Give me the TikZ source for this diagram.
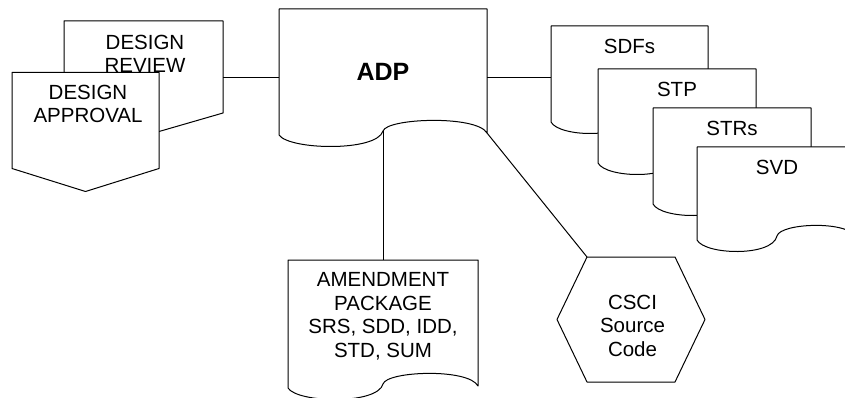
\documentclass[tikz,border=0pt]{standalone}
\usepackage{fontspec}
\setmainfont{Liberation Sans}
\usepackage{tikz}
\usetikzlibrary{positioning,calc}
\tikzset{%
  % shapes
  body/.style={inner sep=0pt, outer sep=0pt, anchor=north west},
  outline/.style={draw, fill=white, line width=1pt, line join=round},
  txt/.style={inner sep=0pt, align=center, font=\fontsize{20.5}{23.5}\selectfont},
  head/.style={txt, font=\fontsize{25}{28}\selectfont\bfseries},
  % edge styles
  link/.style={line width=1pt},
}
\newcommand{\docnode}[6][]{%
  % #1 = extra options for the text
  % #2 = node name
  % #3 = top left corner
  % #4 = width, #5 = height of the straight part
  % #6 = content
  \node[body, minimum width=#4, minimum height=#5] (#2) at (#3) {};
  \path[outline] (#2.south west) -- (#2.north west) -- (#2.north east)
    -- ([yshift=2pt]#2.south east) coordinate (#2-end)
    .. controls +(-0.05*#4,-18) and +(0.02*#4,-13) .. ([yshift=4pt]#2.south) coordinate (#2-cusp)
    .. controls +(-0.03*#4,21) and +(0.05*#4,15) .. (#2.south west) -- cycle;
  \node[txt, below=12.6pt of #2.north, #1] (#2-txt) {#6};
}
\newcommand{\offpagenode}[6][]{%
  % #1 = extra options for the text
  % #2 = node name, #3 = top left corner, #4 = width, #5 = height, #6 = content
  \node[body, minimum width=#4, minimum height=#5] (#2) at (#3) {};
  \path[outline] (#2.north west) -- (#2.north east) -- (#2.south east)
    -- ([yshift=-23pt]#2.south) -- (#2.south west) -- cycle;
  \node[txt, below=13pt of #2.north, #1] (#2-txt) {#6};
}

\begin{document}
\begin{tikzpicture}[x=1pt, y=-1pt]
  \useasboundingbox (0,0) rectangle (845,398);

  % Reviews
  \offpagenode[below=13.7pt of review.north, xshift=1.5pt]{review}{64,21}{159}{92}{DESIGN\\REVIEW}
  \offpagenode[below=12.2pt of approval.north, xshift=2.5pt]{approval}{12,72.5}{147}{96}{DESIGN\\APPROVAL}

  % Central data package
  \docnode[head, below=54pt of adp.north]{adp}{279,9}{208}{126}{ADP}

  % Plans and reports
  \docnode{sdf}{551,26}{157}{96}{SDFs}
  \docnode{stp}{598,69}{158}{94}{STP}
  \docnode{str}{653,108}{158}{96}{STRs}
  \docnode{svd}{697,147}{160}{93}{SVD}

  % Amendment
  \docnode{amend}{288,260}{190}{128}{AMENDMENT\\PACKAGE\\SRS, SDD, IDD,\\STD, SUM}

  % Code
  \node[body, minimum width=148, minimum height=125] (csci) at (557,257) {};
  \path[outline] (csci.west) -- ([xshift=30pt]csci.north west) -- ([xshift=-30pt]csci.north east)
    -- (csci.east) -- ([xshift=-30pt]csci.south east) -- ([xshift=30pt]csci.south west) -- cycle;
  \node[txt, below=37.7pt of csci.north, xshift=1.5pt] (csci-txt) {CSCI\\Source\\Code};

  % Links
  \coordinate (adp-l) at ([yshift=-6pt]adp.west);
  \coordinate (adp-r) at ([yshift=-6pt]adp.east);
  \draw[link] (adp-l) -- (adp-l -| review.east);
  \draw[link] (adp-r) -- (adp-r -| sdf.west);
  \draw[link] (adp-cusp) -- (adp-cusp |- amend.north);
  \draw[link] (adp-end) -- ([xshift=30pt]csci.north west);
\end{tikzpicture}
\end{document}
